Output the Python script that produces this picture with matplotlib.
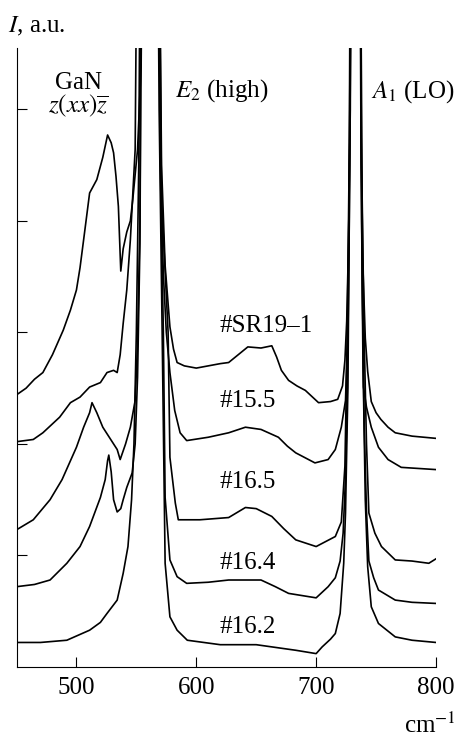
import matplotlib
matplotlib.use("Agg")
import matplotlib.pyplot as plt

plt.rcParams["font.family"] = ["Liberation Serif", "DejaVu Serif"]
plt.rcParams["mathtext.fontset"] = "stix"

# Raman spectra (wavenumber in cm^-1, intensity in arbitrary units, curves offset vertically).
# Values above the top of the frame (the saturated E2 and A1 lines) are clipped by the axes.
OFF = 8.0

sr19_x = [450, 458, 465, 472, 480, 489, 495, 500, 503, 506, 511, 517, 522, 526, 529, 531, 533,
          535, 537, 539, 542, 545, 547, 551, 554, 556, 568, 571, 574, 578, 581, 584, 590, 600,
          610, 620, 627, 635, 643, 654, 663, 667, 671, 677, 684, 691, 702, 712, 718, 722, 724,
          725.5, 727, 728.5, 729.5, 736.5, 737.5, 739, 741, 743, 746, 750, 754, 760, 766, 780, 800]
sr19_y = [2.44, 2.50, 2.58, 2.64, 2.80, 3.02, 3.20, 3.38, 3.58, 3.83, 4.25, 4.37, 4.57, 4.77, 4.70,
          4.61, 4.40, 4.13, 3.55, 3.75, 3.90, 4.00, 4.19, 4.64, 5.40, OFF, OFF, 4.50, 3.60, 3.05,
          2.85, 2.73, 2.70, 2.68, 2.70, 2.72, 2.73, 2.80, 2.87, 2.86, 2.88, 2.78, 2.66, 2.57, 2.52,
          2.48, 2.37, 2.38, 2.40, 2.52, 2.75, 3.10, 3.80, 5.00, OFF, OFF, 4.80, 3.60, 2.95, 2.65,
          2.38, 2.28, 2.22, 2.15, 2.10, 2.07, 2.05]

s155_x = [450, 464, 472, 486, 495, 503, 511, 520, 525.5, 531, 534, 536.5, 539, 542, 545, 549,
          551.5, 568, 570, 572.5, 575, 578, 582, 586.5, 592, 610, 627, 641, 654, 668.5, 676, 683,
          699, 710, 716, 721, 724.5, 726, 727.5, 729, 737, 738, 739.5, 742, 746, 752, 760, 771, 800]
s155_y = [2.02, 2.04, 2.10, 2.24, 2.37, 2.42, 2.51, 2.55, 2.64, 2.66, 2.64, 2.80, 3.08, 3.38, 3.83,
          4.64, OFF, OFF, 4.60, 3.53, 3.00, 2.64, 2.30, 2.10, 2.03, 2.06, 2.10, 2.15, 2.13, 2.06,
          1.98, 1.92, 1.83, 1.86, 1.95, 2.15, 2.39, 2.90, 4.20, OFF, OFF, 4.00, 2.51, 2.33, 2.15,
          1.97, 1.86, 1.79, 1.77]

s165_x = [450, 464, 478, 488, 500, 506, 511, 513, 517, 522, 528, 534, 536.5, 541, 545, 549, 551,
          553, 555, 568, 571, 576.5, 578, 582.5, 585, 603, 627, 641, 650, 663, 673, 683, 700, 716,
          721, 724, 726, 728, 729.5, 736.5, 738, 740, 742, 744, 749, 754.5, 766, 780, 794, 800]
s165_y = [1.23, 1.32, 1.50, 1.68, 1.97, 2.15, 2.28, 2.37, 2.28, 2.15, 2.05, 1.95, 1.86, 2.00, 2.15,
          2.39, 2.90, 4.00, OFF, OFF, 4.20, 3.00, 1.88, 1.47, 1.32, 1.32, 1.34, 1.43, 1.42, 1.35,
          1.24, 1.14, 1.08, 1.17, 1.30, 1.80, 3.00, 5.00, OFF, OFF, 4.50, 3.00, 2.00, 1.38, 1.20,
          1.08, 0.96, 0.95, 0.93, 0.97]

s164_x = [450, 465, 478, 492, 503, 511, 520, 524, 526, 527, 529, 531, 534, 537, 539, 542, 546.5,
          549, 551, 553, 555, 568, 570, 572.5, 574, 578, 584, 592, 610, 627, 654, 666, 677, 700,
          710, 716, 720, 722.5, 724.5, 726, 727.5, 729, 730, 736, 737, 738.5, 740, 742, 744, 748,
          752, 766, 780, 800]
s164_y = [0.72, 0.74, 0.78, 0.93, 1.08, 1.26, 1.52, 1.68, 1.85, 1.90, 1.75, 1.50, 1.39, 1.42, 1.50,
          1.61, 1.74, 2.00, 2.60, 3.80, OFF, OFF, 4.50, 3.02, 1.52, 0.96, 0.81, 0.75, 0.76, 0.78,
          0.78, 0.72, 0.66, 0.62, 0.72, 0.80, 0.95, 1.20, 1.70, 2.50, 3.80, 6.00, OFF, OFF, 6.00,
          3.50, 2.20, 1.40, 0.95, 0.80, 0.69, 0.60, 0.58, 0.57]

s162_x = [450, 470, 492, 511, 520, 525.5, 534, 539, 543, 546, 548, 550, 552, 554, 567, 569,
          571.5, 574, 578, 584, 592.5, 620, 650, 683, 700, 705, 712, 716, 720, 723, 724.5, 726.5,
          728, 729.5, 736, 737.5, 739, 741, 743, 746, 752, 766, 780, 800]
s162_y = [0.22, 0.22, 0.24, 0.33, 0.40, 0.48, 0.60, 0.84, 1.08, 1.50, 2.00, 3.00, 4.50, OFF, OFF,
          5.00, 3.02, 0.93, 0.45, 0.33, 0.24, 0.20, 0.20, 0.15, 0.12, 0.18, 0.25, 0.30, 0.48,
          0.93, 1.38, 2.50, 4.50, OFF, OFF, 4.50, 2.80, 1.50, 0.90, 0.54, 0.39, 0.27, 0.24, 0.22]

series = [(sr19_x, sr19_y), (s155_x, s155_y), (s165_x, s165_y), (s164_x, s164_y), (s162_x, s162_y)]
sample_labels = ["#SR19\u20131", "#15.5", "#16.5", "#16.4", "#16.2"]
label_baselines_px = [332, 407, 488, 569, 633]

x_ticks = [500, 600, 700, 800]
y_ticks = [1, 2, 3, 4, 5]

W, H = 458, 739
fig = plt.figure(figsize=(W / 100, H / 100), dpi=100)
ax = fig.add_axes([16.5 / W, (H - 667) / H, (436 - 16.5) / W, (667 - 48) / H])

for xs, ys in series:
    ax.plot(xs, ys, color="black", lw=1.2, solid_joinstyle="round")

ax.set_xlim(450, 800)
ax.set_ylim(0, 5.55)
ax.set_xticks(x_ticks)
ax.set_yticks(y_ticks)
ax.set_yticklabels([])
ax.tick_params(direction="in", length=7.2, width=0.8, labelsize=18, pad=7)
for side in ("top", "right"):
    ax.spines[side].set_visible(False)
for side in ("left", "bottom"):
    ax.spines[side].set_linewidth(0.8)


def ftext(px, py, s, **kw):
    fig.text(px / W, 1 - py / H, s, fontsize=18, va="baseline", **kw)


ftext(8, 32, r"$I$, a.u.")
ftext(78, 89, "GaN", ha="center")
ftext(78, 112, r"$z(xx)\overline{z}$", ha="center")
ftext(175, 97, r"$E_2$ (high)")
ftext(371, 98, r"$A_1$ (LO)")
for lab, py in zip(sample_labels, label_baselines_px):
    ftext(220, py, lab)
ftext(404, 733, r"cm$^{-1}$")

fig.savefig("out.png", dpi=100)
